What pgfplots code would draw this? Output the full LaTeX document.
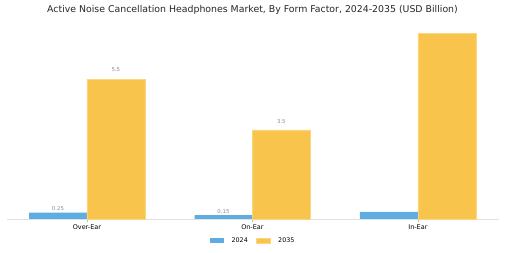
\documentclass[border=0pt]{standalone}
\usepackage{pgfplots}
\pgfplotsset{compat=1.18}
\usepackage{fontspec}
\setmainfont{DejaVu Sans}
\definecolor{cblue}{RGB}{93,173,226}
\definecolor{cyellow}{RGB}{249,196,76}
\definecolor{labgray}{RGB}{140,140,140}
\begin{document}
\begin{tikzpicture}
\path[use as bounding box] (0,0) rectangle (505bp,253bp);
\node[font=\fontsize{9.4}{10}\selectfont, text=black!85] at (252.5bp,243bp) {Active Noise Cancellation Headphones Market, By Form Factor, 2024-2035 (USD Billion)};
\begin{axis}[
  at={(7bp,34bp)}, anchor=south west,
  scale only axis, width=492bp, height=190.9bp,
  xmin=-0.483, xmax=2.49, ymin=0, ymax=7.5,
  axis y line=none,
  axis x line*=bottom,
  x axis line style={draw=black!12, line width=0.8pt, -},
  xtick={0,1,2}, xticklabels={Over-Ear,On-Ear,In-Ear},
  xtick style={draw=black!25, line width=0.5pt},
  major tick length=3bp,
  tick align=outside,
  xticklabel style={font=\fontsize{6.5}{7}\selectfont, text=black, yshift=1bp},
  /pgf/number format/assume math mode=true,
  clip=false,
  legend columns=2,
  legend style={at={(0.5,-0.115)}, anchor=center, draw=none, fill=none,
    font=\fontsize{6.4}{7}\selectfont, column sep=6bp, inner sep=0pt},
  legend image code/.code={\fill[#1] (0bp,-2bp) rectangle (14bp,2.5bp);},
]
\addplot[ybar, bar width=0.35, bar shift=-0.175, fill=cblue, draw=none] coordinates {(0,0.25) (1,0.15) (2,0.28)};
\addlegendentry{2024}
\addplot[ybar, bar width=0.35, bar shift=0.175, fill=cyellow, draw=cyellow!70!white, line width=0.4pt] coordinates {(0,5.5) (1,3.5) (2,7.3)};
\addlegendentry{2035}
\addplot[draw=none, mark=none, forget plot, nodes near coords, point meta=explicit symbolic,
  nodes near coords style={anchor=center, font=\fontsize{5.4}{6}\selectfont, text=labgray, inner sep=0pt}]
  table[meta=label] {
  x y label
  -0.175 0.41 0.25
  0.825 0.30 0.15
  0.175 5.89 5.5
  1.175 3.81 3.5
  };
\end{axis}
\end{tikzpicture}
\end{document}
